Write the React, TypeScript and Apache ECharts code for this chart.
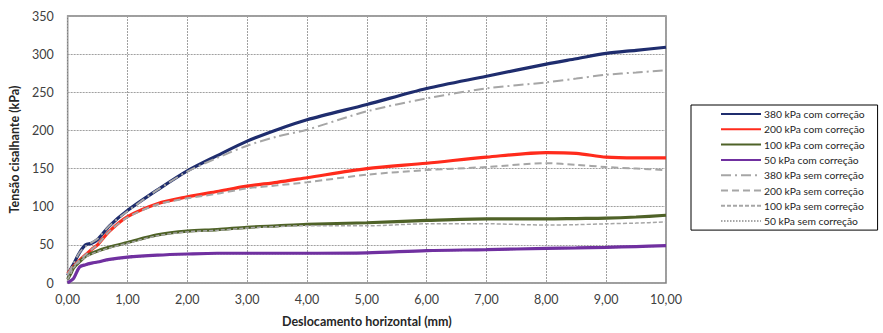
import React, { useEffect, useRef } from "react";
import * as echarts from "echarts";

const xs = [0, 0.05, 0.1, 0.2, 0.3, 0.4, 0.5, 0.7, 1, 1.5, 2, 2.5, 3, 3.5, 4, 5, 6, 7, 8, 8.5, 9, 9.5, 10];

const y380com = [10, 18, 25, 40, 50, 52, 57, 75, 95, 122, 147, 167, 186, 201, 214, 234, 255, 271, 287, 294, 301, 305, 309];
const y200com = [12, 17, 22, 30, 37, 44, 50, 68, 87, 104, 113, 120, 127, 132, 138, 150, 157, 165, 171, 170, 165, 164, 164];
const y100com = [5, 12, 20, 28, 35, 39, 42, 47, 53, 63, 68, 70, 73, 75, 77, 79, 82, 84, 84, 84.5, 85, 86.5, 88.8];
const y50com = [0, 3, 6, 21, 24, 26, 27.5, 31, 34, 36.5, 38, 39, 39, 39, 39, 39.5, 42.5, 43.7, 45.4, 46, 46.7, 47.8, 48.9];

const y380sem = [10, 18, 26, 40, 48, 53, 58, 75, 94, 122, 146, 164, 180, 192, 201, 225, 242, 255, 263, 268, 273, 276, 279];
const y200sem = [12, 17, 22, 30, 37, 44, 50, 68, 86, 103, 111, 117, 124, 128, 132, 142, 148, 152, 157, 155, 152, 150, 148];
const y100sem = [5, 12, 20, 28, 34, 38, 41, 46, 52, 62, 67, 69, 72, 74, 75, 75, 77.6, 77.6, 76, 76.5, 77.6, 78.5, 80];
const y50sem = [0, 3, 6, 20, 23, 25, 27, 30, 33, 36, 37.5, 38.5, 38.5, 38.5, 38.5, 39, 42, 43.2, 45, 45.5, 46.2, 47.3, 48.4];

const names = [
  "380 kPa com correção",
  "200 kPa com correção",
  "100 kPa com correção",
  "50 kPa com correção",
  "380 kPa sem correção",
  "200 kPa sem correção",
  "100 kPa sem correção",
  "50 kPa sem correção",
];

const pair = (ys: number[]) => xs.map((x, i) => [x, ys[i]]);

export default function App() {
  const ref = useRef<HTMLDivElement>(null);
  useEffect(() => {
    if (!ref.current) return;
    const chart = echarts.init(ref.current, null, { renderer: "svg" });
    const gray = "#A6A6A6";
    const mk = (name: string, ys: number[], color: string, width: number, type: any, z: number) => ({
      name,
      type: "line",
      data: pair(ys),
      showSymbol: false,
      symbol: "none",
      smooth: 0.3,
      z,
      lineStyle: { color, width, type },
      itemStyle: { color },
    });
    chart.setOption({
      animation: false,
      textStyle: { fontFamily: "Lato" },
      grid: { left: 62, top: 16, right: 217, bottom: 45, show: true, borderColor: "#7f7f7f", borderWidth: 1.5 },
      xAxis: {
        type: "value",
        min: 0,
        max: 10,
        interval: 1,
        name: "Deslocamento horizontal (mm)",
        nameLocation: "middle",
        nameGap: 32,
        nameTextStyle: { fontFamily: "Lato", fontWeight: "bold", fontSize: 12.5, color: "#262626" },
        axisLine: { show: false },
        axisTick: { show: false },
        axisLabel: {
          fontFamily: "Lato",
          fontSize: 12.5,
          color: "#404040",
          margin: 10,
          formatter: (v: number) => v.toFixed(2).replace(".", ","),
        },
        splitLine: { show: true, lineStyle: { color: "#a0a0a0", type: [2, 1], width: 1 } },
      },
      yAxis: {
        type: "value",
        min: 0,
        max: 350,
        interval: 50,
        name: "Tensão cisalhante (kPa)",
        nameLocation: "middle",
        nameGap: 44,
        nameTextStyle: { fontFamily: "Lato", fontWeight: "bold", fontSize: 12.5, color: "#262626" },
        axisLine: { show: false },
        axisTick: { show: false },
        axisLabel: { fontFamily: "Lato", fontSize: 12.5, color: "#404040", margin: 14 },
        splitLine: { show: true, lineStyle: { color: "#a0a0a0", type: [2, 1], width: 1 } },
      },
      legend: {
        orient: "vertical",
        left: 691,
        top: 105,
        padding: [4, 13, 4, 29],
        borderColor: "#000",
        borderWidth: 1,
        itemWidth: 40,
        itemHeight: 10,
        itemGap: 5.3,
        itemStyle: { opacity: 0, borderWidth: 0 },
        textStyle: { fontFamily: "Lato", fontSize: 10.3, color: "#262626", padding: [0, 0, 0, -2] },
        data: names,
      },
      series: [
        mk(names[0], y380com, "#1F2D6E", 3.2, "solid", 3),
        mk(names[1], y200com, "#FF2B1C", 3.2, "solid", 3),
        mk(names[2], y100com, "#4F6228", 3.2, "solid", 3),
        mk(names[3], y50com, "#7030A0", 3.2, "solid", 4),
        mk(names[4], y380sem, gray, 2, [10, 4, 2, 4], 5),
        mk(names[5], y200sem, gray, 2, [7, 4], 5),
        mk(names[6], y100sem, gray, 1.5, [4, 2], 5),
        mk(names[7], y50sem, gray, 1.5, [1.5, 1.5], 2),
      ],
    });
    return () => chart.dispose();
  }, []);
  return <div ref={ref} style={{ width: 883, height: 333, position: "absolute", left: 0, top: 0 }} />;
}
